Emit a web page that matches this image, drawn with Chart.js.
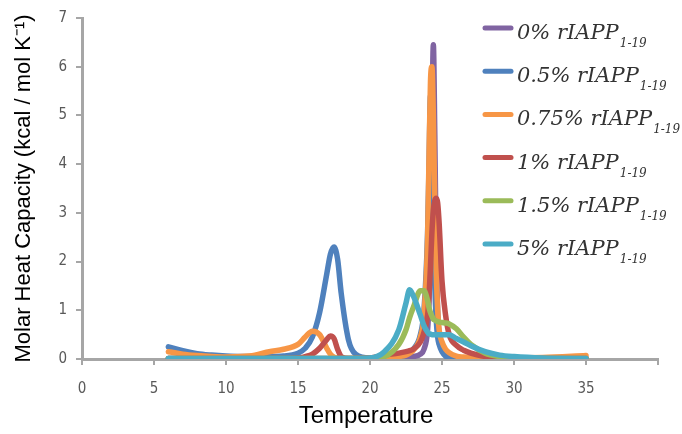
<!DOCTYPE html>
<html>
<head>
<meta charset="utf-8">
<title>Molar heat capacity vs temperature</title>
<script src="https://cdn.jsdelivr.net/npm/chart.js@4/dist/chart.umd.min.js"></script>
<style>
  html, body { margin: 0; padding: 0; background: #fff; }
  #wrap { width: 682px; height: 434px; position: relative; }
</style>
</head>
<body>
<div id="wrap"><canvas id="dsc"></canvas></div>
<script>
// temperature samples (shared by all series)
const temps = [6, 7, 8, 9, 10, 11, 12, 13, 14, 15, 15.5, 16, 16.5, 17, 17.25, 17.5, 17.75, 18, 18.5, 19,
    20, 21, 22, 22.5, 22.75, 23, 23.5, 23.75, 24, 24.1, 24.2, 24.3, 24.4, 24.5, 24.6, 24.7, 24.8,
    25, 25.25, 25.5, 26, 26.5, 27, 28, 29, 30, 32, 35];

// heat capacity, one value per temperature
const pct0 = [0.01, 0.01, 0.01, 0.01, 0.01, 0.01, 0.01, 0.01, 0.01, 0.01, 0.01, 0.01, 0.01, 0.01, 0.01, 0.01, 0.01, 0.01, 0.01, 0.01,
    0.01, 0.01, 0.02, 0.03, 0.04, 0.05, 0.1, 0.2, 0.6, 1.2, 2.5, 4.8, 6.45, 4.6, 2.2, 1.0, 0.5,
    0.2, 0.1, 0.06, 0.03, 0.02, 0.01, 0.01, 0.01, 0.01, 0.01, 0.01];
const pct05 = [0.25, 0.17, 0.11, 0.08, 0.06, 0.05, 0.05, 0.05, 0.06, 0.12, 0.22, 0.45, 0.95, 1.75, 2.15, 2.3, 2.05, 1.35, 0.4, 0.1,
    0.02, 0.02, 0.04, 0.08, 0.14, 0.2, 0.5, 1.0, 2.6, 4.0, 5.4, 4.6, 2.8, 1.5, 0.8, 0.45, 0.3,
    0.15, 0.06, 0.02, 0.01, 0.01, 0.01, 0.01, 0.01, 0.01, 0.01, 0.01];
const pct075 = [0.15, 0.1, 0.07, 0.05, 0.04, 0.05, 0.08, 0.15, 0.2, 0.3, 0.45, 0.57, 0.5, 0.22, 0.1, 0.04, 0.02, 0.01, 0.01, 0.01,
    0.01, 0.02, 0.05, 0.08, 0.12, 0.18, 0.45, 0.9, 2.5, 4.2, 5.7, 6.0, 5.0, 3.2, 1.8, 1.0, 0.6,
    0.35, 0.2, 0.13, 0.06, 0.04, 0.03, 0.02, 0.02, 0.02, 0.03, 0.07];
const pct1 = [0.01, 0.01, 0.01, 0.01, 0.01, 0.01, 0.01, 0.01, 0.01, 0.02, 0.05, 0.1, 0.22, 0.4, 0.47, 0.42, 0.2, 0.05, 0.01, 0.01,
    0.02, 0.08, 0.12, 0.15, 0.17, 0.2, 0.35, 0.55, 0.9, 1.3, 1.9, 2.6, 3.05, 3.25, 3.3, 3.2, 2.8,
    1.6, 0.9, 0.5, 0.28, 0.18, 0.12, 0.05, 0.02, 0.01, 0.01, 0.01];
const pct15 = [0.01, 0.01, 0.01, 0.01, 0.01, 0.01, 0.01, 0.01, 0.01, 0.01, 0.01, 0.01, 0.01, 0.01, 0.01, 0.01, 0.01, 0.01, 0.01, 0.01,
    0.01, 0.05, 0.3, 0.6, 0.85, 1.05, 1.4, 1.4, 1.2, 1.05, 0.95, 0.88, 0.82, 0.8, 0.78, 0.77, 0.76,
    0.75, 0.74, 0.72, 0.62, 0.45, 0.3, 0.12, 0.05, 0.02, 0.01, 0.01];
const pct5 = [0.01, 0.01, 0.01, 0.01, 0.01, 0.01, 0.01, 0.01, 0.01, 0.01, 0.01, 0.01, 0.01, 0.01, 0.01, 0.01, 0.01, 0.01, 0.01, 0.01,
    0.02, 0.15, 0.6, 1.15, 1.42, 1.3, 0.9, 0.68, 0.55, 0.52, 0.51, 0.5, 0.5, 0.5, 0.5, 0.5, 0.5,
    0.5, 0.5, 0.5, 0.42, 0.35, 0.27, 0.15, 0.08, 0.05, 0.02, 0.01];

const seriesNames = ['0%', '0.5%', '0.75%', '1%', '1.5%', '5%'];
const seriesValues = [pct0, pct05, pct075, pct1, pct15, pct5];
const seriesColors = ['#8064A2', '#4F81BD', '#F79646', '#C0504D', '#9BBB59', '#4BACC6'];

const xTicks = [0, 5, 10, 15, 20, 25, 30, 35];
const yTicks = [0, 1, 2, 3, 4, 5, 6, 7];

const axisGray = '#a6a6a6';
const labelGray = '#595959';
const tickFont = { family: "'DejaVu Sans Condensed', 'Liberation Sans', sans-serif", size: 15 };

// axis titles and the legend with subscripts, drawn on top
const overlay = {
    id: 'overlay',
    afterDraw(chart) {
        const ctx = chart.ctx;
        const area = chart.chartArea;
        ctx.save();
        ctx.fillStyle = '#000';

        // x title
        ctx.font = "24px 'Liberation Sans', Arial, sans-serif";
        ctx.textAlign = 'center';
        ctx.textBaseline = 'alphabetic';
        ctx.fillText('Temperature', (area.left + area.right) / 2 - 4, 423);

        // y title, rotated
        ctx.save();
        ctx.translate(30, (area.top + area.bottom) / 2);
        ctx.rotate(-Math.PI / 2);
        ctx.font = "22px 'Liberation Sans', Arial, sans-serif";
        ctx.textAlign = 'center';
        ctx.fillText('Molar Heat Capacity (kcal / mol K\u207B\u00B9)', 0, 0);
        ctx.restore();

        // legend
        seriesNames.forEach((name, i) => {
            const y = 28 + i * 43.2;
            ctx.strokeStyle = seriesColors[i];
            ctx.lineWidth = 5;
            ctx.lineCap = 'round';
            ctx.beginPath();
            ctx.moveTo(485, y);
            ctx.lineTo(511, y);
            ctx.stroke();

            ctx.textAlign = 'left';
            ctx.fillStyle = '#333333';
            ctx.font = "italic 21px 'DejaVu Serif', serif";
            const main = name + ' rIAPP';
            ctx.fillText(main, 517, y + 11);
            const w = ctx.measureText(main).width;
            ctx.font = "italic 12px 'DejaVu Serif', serif";
            ctx.fillText('1-19', 517 + w + 1, y + 19);
        });
        ctx.restore();
    }
};

const datasets = seriesNames.map((name, i) => ({
    label: name + ' rIAPP1-19',
    data: temps.map((t, k) => ({ x: t, y: seriesValues[i][k] })),
    borderColor: seriesColors[i],
    backgroundColor: seriesColors[i],
    borderWidth: 5.5,
    borderCapStyle: 'round',
    borderJoinStyle: 'round',
    pointRadius: 0,
    fill: false,
    cubicInterpolationMode: 'monotone',
    order: seriesNames.length - 1 - i
}));

new Chart(document.getElementById('dsc'), {
    type: 'line',
    data: { datasets },
    options: {
        responsive: true,
        maintainAspectRatio: false,
        animation: false,
        layout: { padding: { top: 18, right: 24, left: 0, bottom: 0 } },
        plugins: {
            legend: { display: false },
            tooltip: { enabled: false }
        },
        scales: {
            x: {
                type: 'linear',
                min: 0,
                max: 40,
                afterBuildTicks: scale => { scale.ticks = [...xTicks, 40].map(v => ({ value: v })); },
                afterFit: scale => { scale.height = 75; },
                ticks: {
                    callback: v => (xTicks.includes(v) ? String(v) : ''),
                    color: labelGray,
                    font: tickFont,
                    padding: 15,
                    maxRotation: 0
                },
                grid: { drawOnChartArea: false, drawTicks: true, tickLength: 6, color: axisGray, lineWidth: 2 },
                border: { color: axisGray, width: 3 }
            },
            y: {
                min: 0,
                max: 7,
                afterBuildTicks: scale => { scale.ticks = yTicks.map(v => ({ value: v })); },
                afterFit: scale => { scale.width = 82; },
                ticks: {
                    color: labelGray,
                    font: tickFont,
                    padding: 9
                },
                grid: { drawOnChartArea: false, drawTicks: true, tickLength: 6, color: axisGray, lineWidth: 2 },
                border: { color: axisGray, width: 3 }
            }
        }
    },
    plugins: [overlay]
});
</script>
</body>
</html>
